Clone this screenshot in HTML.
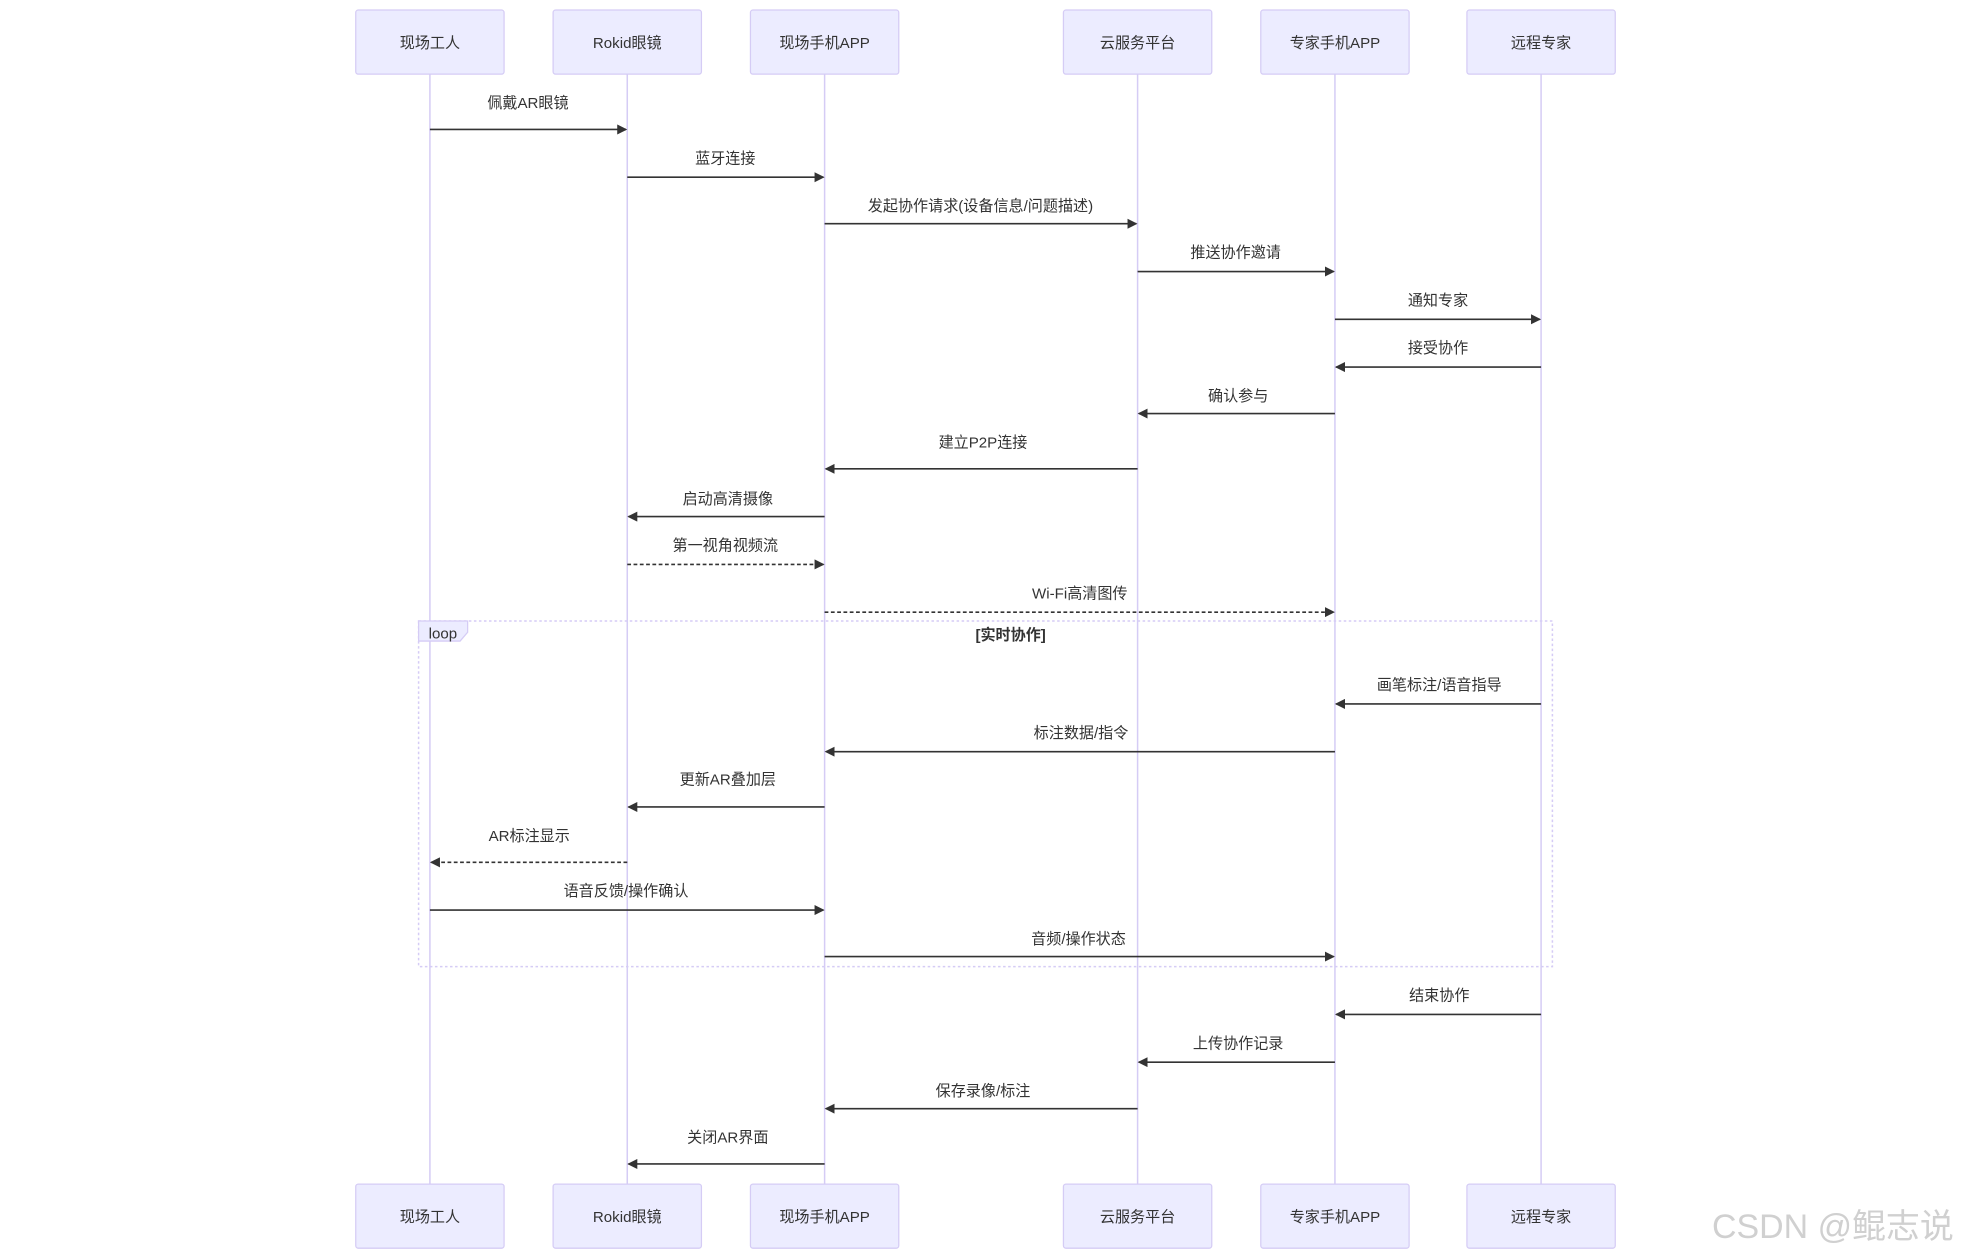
<!DOCTYPE html>
<html><head><meta charset="utf-8"><style>
html,body{margin:0;padding:0;background:#fff;}
svg{display:block;}
text{font-family:"Liberation Sans","Noto Sans CJK SC",sans-serif;fill:#333;}
</style></head><body>
<svg width="1971" height="1260" viewBox="0 0 1568 1002.4" xmlns="http://www.w3.org/2000/svg">
<defs>
<marker id="a" markerWidth="8" markerHeight="8" refX="7" refY="4" orient="auto" markerUnits="userSpaceOnUse"><path d="M0,0 L8,4 L0,8 z" fill="#333"/></marker>
</defs>
<g stroke="#d5ccf5" stroke-width="1.2">
<line x1="342" y1="59" x2="342" y2="942"/>
<line x1="499" y1="59" x2="499" y2="942"/>
<line x1="656" y1="59" x2="656" y2="942"/>
<line x1="905" y1="59" x2="905" y2="942"/>
<line x1="1062" y1="59" x2="1062" y2="942"/>
<line x1="1226" y1="59" x2="1226" y2="942"/>
</g>
<g fill="#ececff" stroke="#d5ccf5" stroke-width="1">
<rect x="283" y="8" width="118" height="51" rx="2"/>
<rect x="440" y="8" width="118" height="51" rx="2"/>
<rect x="597" y="8" width="118" height="51" rx="2"/>
<rect x="846" y="8" width="118" height="51" rx="2"/>
<rect x="1003" y="8" width="118" height="51" rx="2"/>
<rect x="1167" y="8" width="118" height="51" rx="2"/>
<rect x="283" y="942" width="118" height="51" rx="2"/>
<rect x="440" y="942" width="118" height="51" rx="2"/>
<rect x="597" y="942" width="118" height="51" rx="2"/>
<rect x="846" y="942" width="118" height="51" rx="2"/>
<rect x="1003" y="942" width="118" height="51" rx="2"/>
<rect x="1167" y="942" width="118" height="51" rx="2"/>
</g>
<g font-size="12" text-anchor="middle">
<text x="342" y="38">现场工人</text><text x="499" y="38">Rokid眼镜</text><text x="656" y="38">现场手机APP</text>
<text x="905" y="38">云服务平台</text><text x="1062" y="38">专家手机APP</text><text x="1226" y="38">远程专家</text>
<text x="342" y="972">现场工人</text><text x="499" y="972">Rokid眼镜</text><text x="656" y="972">现场手机APP</text>
<text x="905" y="972">云服务平台</text><text x="1062" y="972">专家手机APP</text><text x="1226" y="972">远程专家</text>
</g>
<!-- loop -->
<rect x="333" y="494" width="902" height="275" fill="none" stroke="#d5ccf5" stroke-width="1.2" stroke-dasharray="2,2"/>
<path d="M333,494 H372 V503 L366,510 H333 Z" fill="#ececff" stroke="#d5ccf5" stroke-width="1"/>
<text x="341" y="508" font-size="12">loop</text>
<text x="804" y="509" font-size="12" text-anchor="middle" font-weight="bold">[实时协作]</text>
<g stroke="#333" stroke-width="1.3" fill="none" marker-end="url(#a)">
<line x1="342" y1="103" x2="498" y2="103"/>
<line x1="499" y1="141" x2="655" y2="141"/>
<line x1="656" y1="178" x2="904" y2="178"/>
<line x1="905" y1="216" x2="1061" y2="216"/>
<line x1="1062" y1="254" x2="1225" y2="254"/>
<line x1="1226" y1="292" x2="1063" y2="292"/>
<line x1="1062" y1="329" x2="906" y2="329"/>
<line x1="905" y1="373" x2="657" y2="373"/>
<line x1="656" y1="411" x2="500" y2="411"/>
<line x1="499" y1="449" x2="655" y2="449" stroke-dasharray="3,2"/>
<line x1="656" y1="487" x2="1061" y2="487" stroke-dasharray="3,2"/>
<line x1="1226" y1="560" x2="1063" y2="560"/>
<line x1="1062" y1="598" x2="657" y2="598"/>
<line x1="656" y1="642" x2="500" y2="642"/>
<line x1="499" y1="686" x2="343" y2="686" stroke-dasharray="3,2"/>
<line x1="342" y1="724" x2="655" y2="724"/>
<line x1="656" y1="761" x2="1061" y2="761"/>
<line x1="1226" y1="807" x2="1063" y2="807"/>
<line x1="1062" y1="845" x2="906" y2="845"/>
<line x1="905" y1="882" x2="657" y2="882"/>
<line x1="656" y1="926" x2="500" y2="926"/>
</g>
<g font-size="12" text-anchor="middle">
<text x="420" y="86">佩戴AR眼镜</text>
<text x="577" y="130">蓝牙连接</text>
<text x="780" y="168">发起协作请求(设备信息/问题描述)</text>
<text x="983" y="205">推送协作邀请</text>
<text x="1144" y="243">通知专家</text>
<text x="1144" y="281">接受协作</text>
<text x="985" y="319">确认参与</text>
<text x="782" y="356">建立P2P连接</text>
<text x="579" y="401">启动高清摄像</text>
<text x="577" y="438">第一视角视频流</text>
<text x="859" y="476">Wi-Fi高清图传</text>
<text x="1145" y="549">画笔标注/语音指导</text>
<text x="860" y="587">标注数据/指令</text>
<text x="579" y="624">更新AR叠加层</text>
<text x="421" y="669">AR标注显示</text>
<text x="498" y="713">语音反馈/操作确认</text>
<text x="858" y="751">音频/操作状态</text>
<text x="1145" y="796">结束协作</text>
<text x="985" y="834">上传协作记录</text>
<text x="782" y="872">保存录像/标注</text>
<text x="579" y="909">关闭AR界面</text>
</g>
<text x="1362" y="985" font-size="27" style="fill:#d0d0d0">CSDN @鲲志说</text>
</svg>
</body></html>
